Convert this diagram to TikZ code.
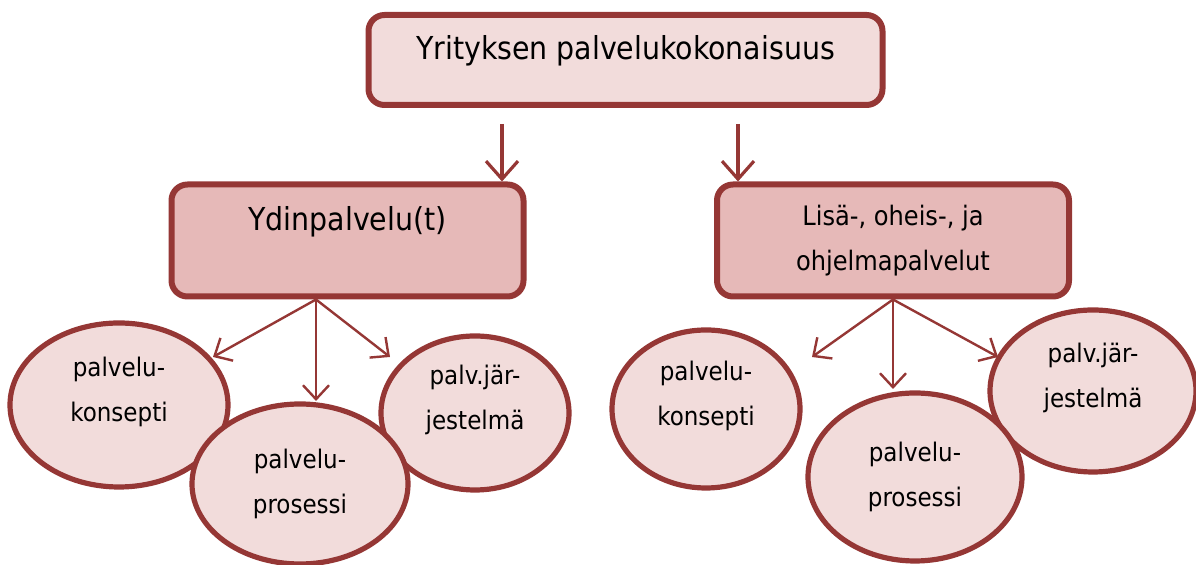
\documentclass[tikz,border=0pt]{standalone}
\usepackage{fontspec}
\setmainfont{DejaVu Sans Condensed}
\usetikzlibrary{arrows.meta,shapes.geometric}
\definecolor{bord}{HTML}{953735}
\definecolor{lightfill}{HTML}{F2DCDB}
\definecolor{midfill}{HTML}{E6B9B8}
\tikzset{
  boxshape/.style={draw=bord, line width=3pt, rounded corners=8pt, inner sep=0pt},
  ell/.style={ellipse, draw=bord, fill=lightfill, line width=2.6pt, inner sep=0pt, align=center, font=\fontsize{12.8}{22.5}\selectfont},
  bigarrow/.style={draw=bord, line width=1.6pt, -{Straight Barb[length=9pt,width=16pt,line width=1.6pt]}},
  smallarrow/.style={draw=bord, line width=1.2pt, -{Straight Barb[length=7pt,width=13pt,line width=1.2pt]}},
}
\begin{document}
\begin{tikzpicture}[x=0.5pt,y=-0.5pt]
\useasboundingbox (0,0) rectangle (1196,565);
% top box
\node[boxshape, fill=lightfill, minimum width=257pt, minimum height=45pt] (top) at (625.5,60) {};
\node[font=\fontsize{15.8}{18}\selectfont] (toptext) at (625.5,51) {Yrityksen palvelukokonaisuus};
% middle boxes
\node[boxshape, fill=midfill, minimum width=176pt, minimum height=56pt] (ydin) at (347.5,240.5) {};
\node[font=\fontsize{15.8}{18}\selectfont] (ydintext) at (347.5,222) {Ydinpalvelu(t)};
\node[boxshape, fill=midfill, minimum width=176pt, minimum height=56pt, align=center, font=\fontsize{13.4}{22.5}\selectfont] (lisa) at (893,240.5) {Lisä-, oheis-, ja\\ohjelmapalvelut};
% top arrows
\coordinate (a1) at (502,124);
\coordinate (a2) at (738,124);
\draw[bigarrow] (a1) -- (a1 |- ydin.north);
\draw[bigarrow] (a2) -- (a2 |- lisa.north);
% left ellipses
\node[ell, minimum width=109pt, minimum height=82pt] (lk) at (119,405) {palvelu-\\konsepti\\[-7pt]};
\node[ell, minimum width=94pt, minimum height=77pt] (lj) at (475,413) {palv.jär-\\jestelmä\\[-7pt]};
\node[ell, minimum width=108pt, minimum height=80pt] (lp) at (300,484) {palvelu-\\prosessi};
% right ellipses
\node[ell, minimum width=94pt, minimum height=79pt] (rk) at (706,409) {palvelu-\\konsepti\\[-7pt]};
\node[ell, minimum width=103pt, minimum height=81pt] (rj) at (1093,391) {palv.jär-\\jestelmä\\[-7pt]};
\node[ell, minimum width=107pt, minimum height=84pt] (rp) at (915,477) {palvelu-\\prosessi};
% lower arrows
\coordinate (l1) at (213,357);
\coordinate (l2) at (316,401);
\coordinate (l3) at (390,357);
\coordinate (r1) at (812,357);
\coordinate (r2) at (893,389);
\coordinate (r3) at (998,357);
\draw[smallarrow] (ydin.south -| l2) -- (l1);
\draw[smallarrow] (ydin.south -| l2) -- (l2);
\draw[smallarrow] (ydin.south -| l2) -- (l3);
\draw[smallarrow] (lisa.south) -- (r1);
\draw[smallarrow] (lisa.south) -- (r2);
\draw[smallarrow] (lisa.south) -- (r3);
\end{tikzpicture}
\end{document}
